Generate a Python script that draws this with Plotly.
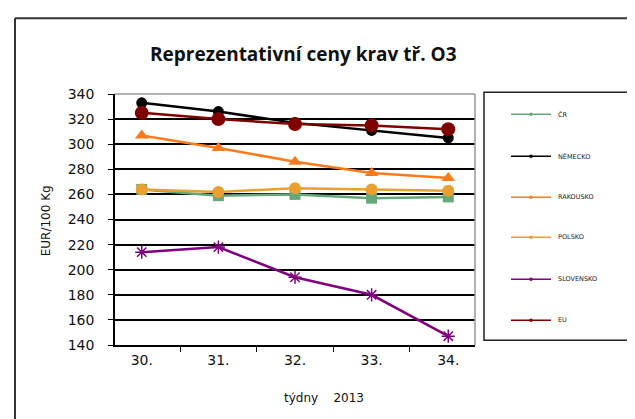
import plotly.graph_objects as go

weeks = ["30.", "31.", "32.", "33.", "34."]
cr = [264, 259, 260, 257, 258]
nemecko = [333, 326, 317, 311, 305]
rakousko = [307, 297, 286, 277, 273]
polsko = [264, 262, 265, 264, 263]
slovensko = [214, 218, 194, 180, 147]
eu = [325, 320, 316, 315, 312]

series_names = ["ČR", "NĚMECKO", "RAKOUSKO", "POLSKO", "SLOVENSKO", "EU"]
series_values = [cr, nemecko, rakousko, polsko, slovensko, eu]
colors = ["#66A878", "#000000", "#FF7A1A", "#E8A030", "#800080", "#800000"]
symbols = ["square", "circle", "triangle-up", "circle", "asterisk-open", "circle"]
msizes = [11, 11, 12, 12, 11, 14]

W, H = 635, 419
L, R, T, B = 107, 467, 85.7, 336.7

def px(x):
    return (x - L) / (R - L)

def py(y):
    return (B - y) / (B - T)

fig = go.Figure()
for name, vals, c, s, ms in zip(series_names, series_values, colors, symbols, msizes):
    mk = dict(color=c, symbol=s, size=ms)
    if s == "asterisk-open":
        mk["line"] = dict(color=c, width=1.5)
    fig.add_trace(go.Scatter(x=weeks, y=vals, name=name, mode="lines+markers",
                             line=dict(color=c, width=2.5), marker=mk,
                             showlegend=False))

shapes = []
# plot area grey frame (top and right)
shapes.append(dict(type="line", xref="paper", yref="paper", x0=0, x1=1, y0=1, y1=1,
                   line=dict(color="#999999", width=1.5)))
shapes.append(dict(type="line", xref="paper", yref="paper", x0=1, x1=1, y0=0, y1=1,
                   line=dict(color="#999999", width=1.5)))
# outer frame (left and top)
shapes.append(dict(type="line", xref="paper", yref="paper", x0=px(7), x1=px(7), y0=py(10), y1=py(425),
                   line=dict(color="#333333", width=2)))
shapes.append(dict(type="line", xref="paper", yref="paper", x0=px(7), x1=px(640), y0=py(10), y1=py(10),
                   line=dict(color="#333333", width=2)))
# legend box
shapes.append(dict(type="rect", xref="paper", yref="paper", x0=px(476), x1=px(632), y0=py(84), y1=py(332),
                   line=dict(color="#222222", width=1.5)))

annotations = []
leg_y = [106, 148, 189, 229, 271, 312]
for name, c, yy in zip(series_names, colors, leg_y):
    shapes.append(dict(type="line", xref="paper", yref="paper", x0=px(503), x1=px(543),
                       y0=py(yy), y1=py(yy), line=dict(color=c, width=1.5)))
    shapes.append(dict(type="circle", xref="paper", yref="paper", x0=px(521.5), x1=px(524.5),
                       y0=py(yy + 1.5), y1=py(yy - 1.5), fillcolor=c, line=dict(color=c, width=0.5)))
    annotations.append(dict(xref="paper", yref="paper", x=px(548), y=py(yy), text=name,
                            showarrow=False, xanchor="left", yanchor="middle",
                            font=dict(size=6.5, color="#222222", family="DejaVu Sans")))

annotations.append(dict(xref="paper", yref="paper", x=px(295), y=py(46),
                        text="<b>Reprezentativní ceny krav tř. O3</b>", showarrow=False,
                        xanchor="center", yanchor="middle",
                        font=dict(size=19, color="#111111", family="Open Sans, sans-serif")))
annotations.append(dict(xref="paper", yref="paper", x=px(316), y=py(390),
                        text="týdny    2013", showarrow=False,
                        xanchor="center", yanchor="middle",
                        font=dict(size=12, color="#111111", family="DejaVu Sans")))
annotations.append(dict(xref="paper", yref="paper", x=px(38), y=py(213),
                        text="EUR/100 Kg", showarrow=False, textangle=-90,
                        xanchor="center", yanchor="middle",
                        font=dict(size=12, color="#111111", family="DejaVu Sans")))

fig.update_layout(
    width=W, height=H,
    margin=dict(l=L, r=W - R, t=T, b=H - B, pad=0),
    paper_bgcolor="white", plot_bgcolor="white",
    shapes=shapes, annotations=annotations,
    font=dict(family="DejaVu Sans", color="#111111"),
    xaxis=dict(type="category", tickson="boundaries", ticks="outside", ticklen=5,
               tickcolor="black", tickwidth=1.2, showline=True, linecolor="black", linewidth=1.5,
               showgrid=False, tickfont=dict(size=14, color="#111111"), ticklabelstandoff=1,
               fixedrange=True),
    yaxis=dict(range=[140, 340], dtick=20, tick0=140, ticks="outside", ticklen=5,
               tickcolor="black", tickwidth=1.2, showline=True, linecolor="black", linewidth=1.5,
               showgrid=True, gridcolor="black", gridwidth=1.5, zeroline=False,
               tickfont=dict(size=14, color="#111111"), ticklabelstandoff=11, fixedrange=True),
)

fig.write_html("out.html")
